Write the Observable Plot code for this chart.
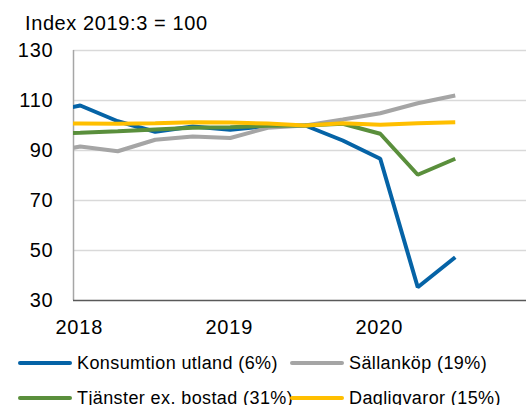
<!DOCTYPE html>
<html>
<head>
<meta charset="utf-8">
<script src="https://cdn.jsdelivr.net/npm/d3@7"></script>
<script src="https://cdn.jsdelivr.net/npm/@observablehq/plot@0.6"></script>
<style>
  html, body { margin: 0; padding: 0; background: #fff; }
  body { width: 526px; height: 405px; overflow: hidden; position: relative; font-family: "Liberation Sans", Arial, sans-serif; color: #000; }
  #sub { position: absolute; left: 25px; top: 11px; font-size: 20px; line-height: 24px; letter-spacing: 0.6px; white-space: nowrap; }
  #chart { position: absolute; left: 0; top: 0; }
  .leg { position: absolute; font-size: 18px; line-height: 22px; letter-spacing: 0.4px; white-space: nowrap; display: flex; align-items: center; }
  .sw { display: inline-block; width: 54px; height: 4px; border-radius: 2px; margin-right: 5px; }
</style>
</head>
<body>
<div id="sub">Index 2019:3 = 100</div>
<div id="chart"></div>
<div id="legend"></div>
<script>
const quarters = [2017.75, 2018.0, 2018.25, 2018.5, 2018.75, 2019.0, 2019.25, 2019.5, 2019.75, 2020.0, 2020.25, 2020.5];
const seriesNames = ["Konsumtion utland (6%)", "Sällanköp (19%)", "Tjänster ex. bostad (31%)", "Dagligvaror (15%)"];
const seriesColors = ["#0563a6", "#a5a5a5", "#5a8f3c", "#ffbf00"];
const konsumtionUtland = [105.0, 108.0, 101.7, 97.5, 99.6, 98.3, 99.8, 100, 94.0, 86.7, 35.3, 47.3];
const sallankop = [88.7, 91.6, 89.7, 94.3, 95.6, 95.0, 99.1, 100, 102.4, 104.9, 108.9, 112.0];
const tjanster = [96.8, 97.1, 97.7, 98.4, 99.1, 99.3, 99.9, 100, 100.7, 96.7, 80.3, 86.7];
const dagligvaror = [100.7, 100.8, 100.7, 100.9, 101.3, 101.2, 100.8, 100, 100.9, 100.3, 100.9, 101.3];
const yTicks = [30, 50, 70, 90, 110, 130];
const xTicks = [2018, 2019, 2020];

const allSeries = [konsumtionUtland, sallankop, tjanster, dagligvaror];
const data = [];
allSeries.forEach((vals, i) => vals.forEach((v, j) => data.push({t: quarters[j], v, s: seriesNames[i]})));

const xDomain = [2017.955, 2020.975];

const plot = Plot.plot({
  width: 526,
  height: 340,
  marginLeft: 73,
  marginRight: 0,
  marginTop: 50,
  marginBottom: 40,
  style: {fontFamily: "Liberation Sans, Arial, sans-serif", fontSize: "20px", color: "#000", background: "transparent", overflow: "visible", letterSpacing: "0.8px"},
  x: {type: "linear", domain: xDomain},
  y: {domain: [30, 130]},
  color: {domain: seriesNames, range: seriesColors},
  marks: [
    Plot.gridY(yTicks.filter(d => d > 30), {stroke: "#d9d9d9", strokeOpacity: 1, strokeWidth: 1.5}),
    Plot.ruleX([xDomain[0]], {stroke: "#a6a6a6", strokeWidth: 1.5}),
    Plot.line(data, {x: "t", y: "v", z: "s", stroke: "s", strokeWidth: 4, strokeLinejoin: "miter", strokeLinecap: "butt", clip: true}),
    Plot.ruleY([30], {stroke: "#595959", strokeWidth: 1.5}),
    Plot.axisY(yTicks, {tickSize: 0, tickPadding: 20, fontSize: 20, fill: "#000", label: null}),
    Plot.axisX(xTicks, {tickSize: 0, tickPadding: 19, fontSize: 20, fill: "#000", dx: -1, tickFormat: d => String(d), label: null})
  ]
});
document.getElementById("chart").appendChild(plot);

const legPos = [
  {left: 18, top: 352},
  {left: 290, top: 352},
  {left: 18, top: 387},
  {left: 290, top: 387}
];
const leg = document.getElementById("legend");
seriesNames.forEach((name, i) => {
  const d = document.createElement("div");
  d.className = "leg";
  d.style.left = legPos[i].left + "px";
  d.style.top = legPos[i].top + "px";
  const sw = document.createElement("span");
  sw.className = "sw";
  sw.style.background = seriesColors[i];
  const tx = document.createElement("span");
  tx.textContent = name;
  d.appendChild(sw);
  d.appendChild(tx);
  leg.appendChild(d);
});
</script>
</body>
</html>
